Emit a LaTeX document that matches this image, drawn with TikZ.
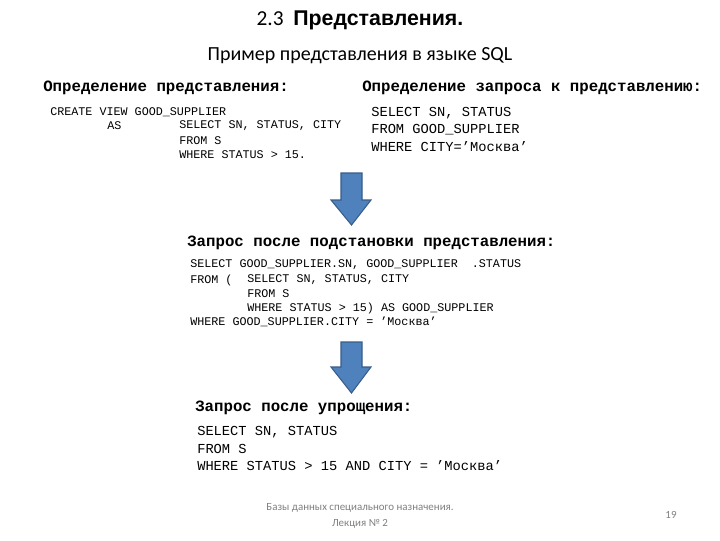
\documentclass[tikz,border=0pt]{standalone}
\usepackage{fontspec}
\setmainfont{Carlito}
\newfontfamily\monof{Liberation Mono}
\newfontfamily\headf{Liberation Sans}
\begin{document}
\begin{tikzpicture}[x=0.75pt,y=-0.75pt,
  txt/.style={anchor=west,inner sep=0pt},
  hd/.style={txt,font=\monof\bfseries\fontsize{11.8}{13}\selectfont},
  cs/.style={txt,font=\monof\fontsize{8.8}{10}\selectfont},
  cl/.style={txt,font=\monof\fontsize{10.3}{12}\selectfont},
  bigarrow/.style={fill=arrowblue,draw=arrowedge,line width=0.8pt,line join=miter}]
\definecolor{arrowblue}{HTML}{4F81BD}
\definecolor{arrowedge}{HTML}{385D8A}
\fill[white] (0,0) rectangle (720,540);
\node[inner sep=0pt] (t1) at (360,20) {\fontsize{16}{18}\selectfont 2.3\ \ {\headf\bfseries Представления.}};
\node[inner sep=0pt] (t2) at (360,56) {\fontsize{15}{18}\selectfont Пример представления в языке SQL};
\node[hd] (h1) at (43,88) {Определение представления:};
\node[hd] (h2) at (362,88) {Определение запроса к представлению:};
\node[cs] (a1) at (50,112) {CREATE VIEW GOOD\_SUPPLIER};
\node[cs] (a2) at (107,126) {AS};
\node[cs] (a3) at (179,126) {SELECT SN, STATUS, CITY};
\node[cs] (a4) at (179,141) {FROM S};
\node[cs] (a5) at (179,155) {WHERE STATUS > 15.};
\node[cl] (b1) at (371,113) {SELECT SN, STATUS};
\node[cl] (b2) at (371,130) {FROM GOOD\_SUPPLIER};
\node[cl] (b3) at (371,147) {WHERE CITY=’Москва’};
\draw[bigarrow] (341,173) -- (362,173) -- (362,200) -- (371,200) -- (351.5,225) -- (331,200) -- (341,200) -- cycle;
\node[hd] (h3) at (187,243) {Запрос после подстановки представления:};
\node[cs] (c1) at (190,265) {SELECT GOOD\_SUPPLIER.SN, GOOD\_SUPPLIER\ \ .STATUS};
\node[cs] (c2) at (190,280) {FROM (};
\node[cs] (c3) at (247,280) {SELECT SN, STATUS, CITY};
\node[cs] (c4) at (247,294) {FROM S};
\node[cs] (c5) at (247,308) {WHERE STATUS > 15) AS GOOD\_SUPPLIER};
\node[cs] (c6) at (190,322) {WHERE GOOD\_SUPPLIER.CITY = ’Москва’};
\draw[bigarrow] (341,342) -- (362,342) -- (362,367) -- (371,367) -- (351.5,393) -- (331,367) -- (341,367) -- cycle;
\node[hd] (h4) at (195,408) {Запрос после упрощения:};
\node[cl] (d1) at (197,432) {SELECT SN, STATUS};
\node[cl] (d2) at (197,449) {FROM S};
\node[cl] (d3) at (197,466) {WHERE STATUS > 15 AND CITY = ’Москва’};
\node[inner sep=0pt,text=gray,align=center,font=\fontsize{8.2}{11.5}\selectfont] (f1) at (360,516) {Базы данных специального назначения.\\Лекция № 2};
\node[inner sep=0pt,text=gray,font=\fontsize{8.2}{10}\selectfont] (f2) at (671,515) {19};
\end{tikzpicture}
\end{document}
